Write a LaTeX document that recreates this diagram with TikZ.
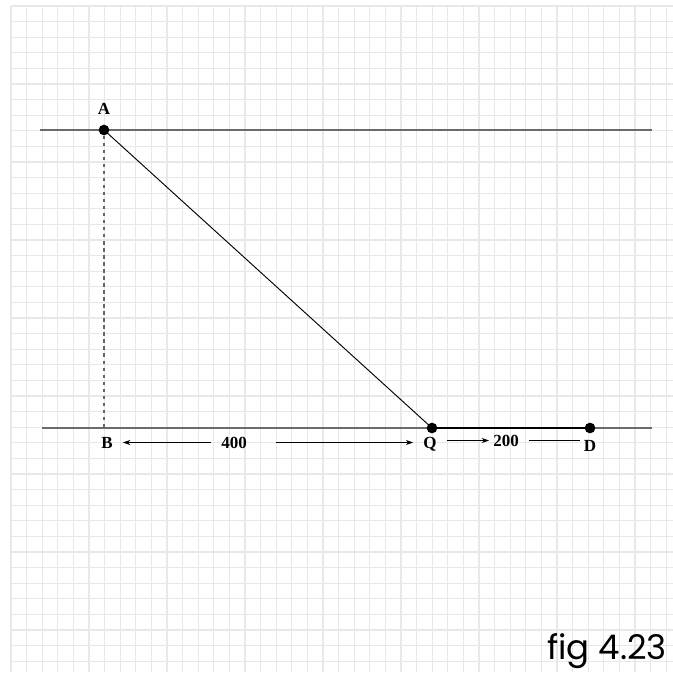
\documentclass[tikz,border=0pt]{standalone}
\usepackage{fontspec}
\setmainfont{Liberation Serif}
\newfontfamily\captionfont{Poppins}
\usetikzlibrary{arrows.meta, positioning}

\begin{document}
\begin{tikzpicture}[
    x=0.03cm, y=-0.03cm,
    gridline/.style={draw=black!9, line width=1.1pt},
    level/.style={draw=black!58, line width=1.7pt},
    point/.style={circle, fill=black, inner sep=0pt, minimum size=3.2mm},
    lbl/.style={font=\bfseries\fontsize{14.5}{14.5}\selectfont, inner sep=0pt, text height=3.3mm, text depth=0pt, anchor=base},
    dim/.style={-{Stealth[length=2.2mm, width=1.5mm]}, line width=0.6pt}
]
    \useasboundingbox (0,0) rectangle (673,672);

    % squared paper
    \foreach \i in {0,...,42} {
        \draw[gridline] (11+\i*15.6,6) -- (11+\i*15.6,672);
        \draw[gridline] (11,6+\i*15.6) -- (673,6+\i*15.6);
    }

    % the two levels
    \coordinate (topL) at (40,130);
    \coordinate (topR) at (652,130);
    \coordinate (botL) at (42,428);
    \coordinate (botR) at (652,428);
    \draw[level] (topL) -- (topR);
    \draw[level] (botL) -- (botR);

    \node[point] (A) at (104,130) {};
    \coordinate (B) at (104,428);
    \node[point] (Q) at (432,428) {};
    \node[point] (D) at (590,428) {};

    \draw[black!60, dashed, line width=1.1pt] (A) -- (B);
    \draw[line width=0.8pt] (A.center) -- (Q.center);
    \draw[line width=2.2pt] (Q.center) -- (D.center);

    % labels
    \node[lbl, above=3mm of A] (lblA) {A};
    \node[lbl] (lblB) at (107,448) {B};
    \node[lbl] (lblQ) at (430,448) {Q};
    \node[lbl] (lblD) at (590,451) {D};
    \node[lbl] (len400) at (234,448) {400};
    \node[lbl] (len200) at (506,446) {200};

    \draw[dim, shorten <=3mm, shorten >=3mm] (len400.west) -- (lblB.east);
    \draw[dim, shorten <=8.7mm, shorten >=3mm] (len400.east) -- (len400.east -| lblQ.west);
    \draw[dim, shorten <=3mm, shorten >=1.2mm] (lblQ.east |- len200.west) -- (len200.west);
    \draw[line width=0.6pt, shorten <=3mm, shorten >=1.2mm] (len200.east) -- (len200.east -| lblD.west);

    \node[font=\captionfont\fontsize{29}{30}\selectfont, anchor=base east, inner sep=0pt] (caption) at (667,659) {fig 4.23};
\end{tikzpicture}
\end{document}
